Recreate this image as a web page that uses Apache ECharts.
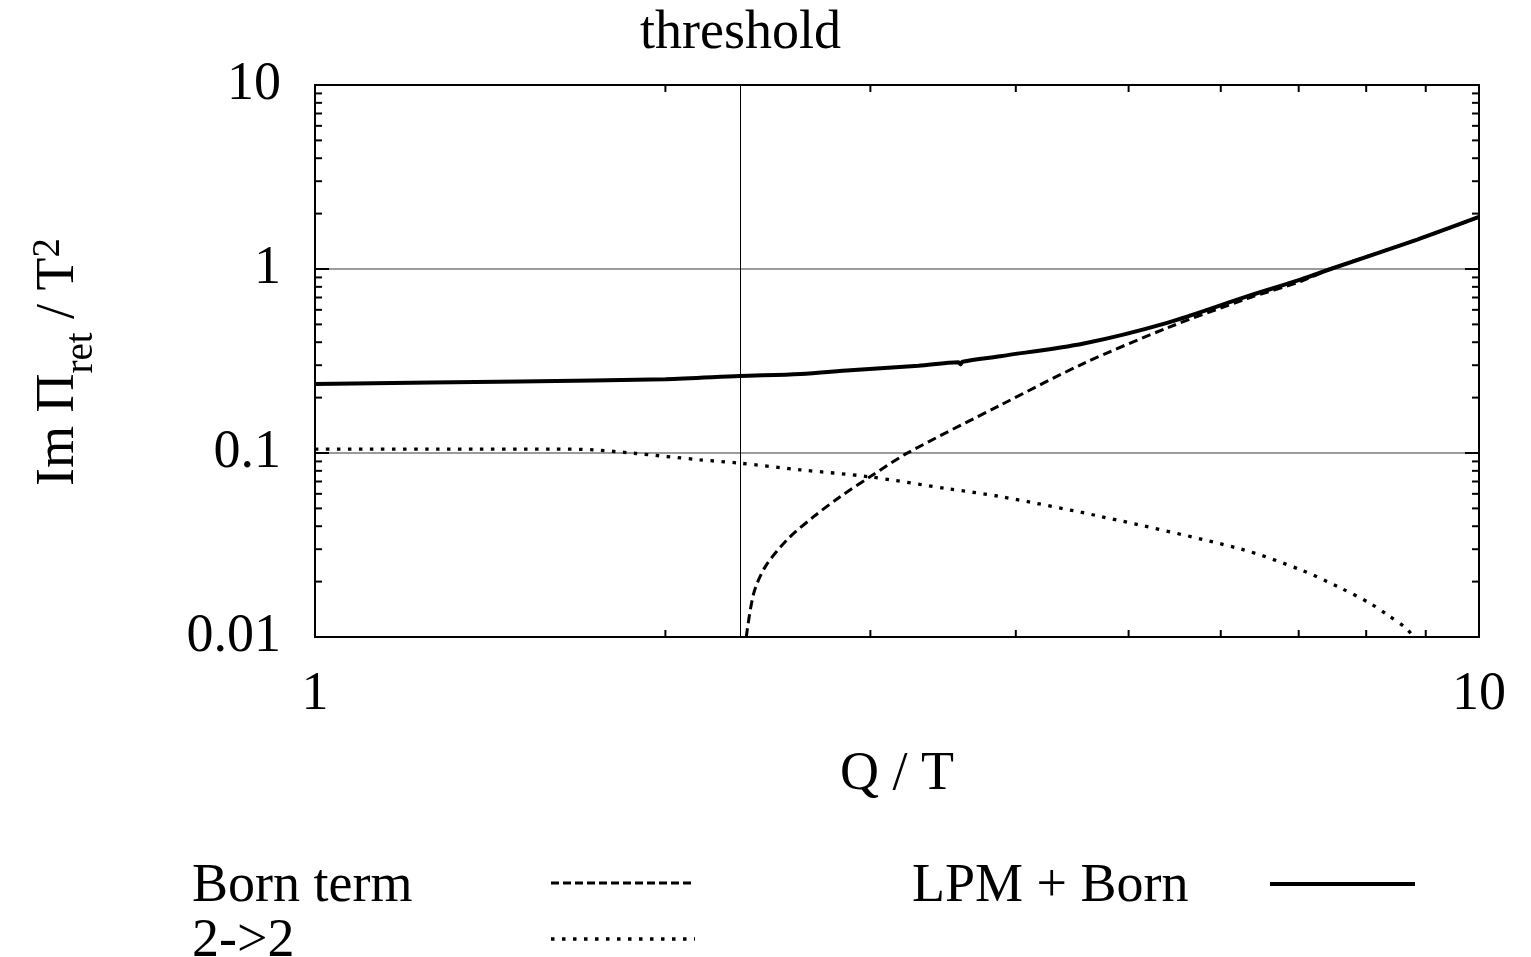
<!DOCTYPE html>
<html>
<head>
<meta charset="utf-8">
<script src="https://cdn.jsdelivr.net/npm/echarts@6/dist/echarts.min.js"></script>
<style>
  html, body { margin: 0; padding: 0; background: #ffffff; }
  #chart { width: 1531px; height: 957px; }
</style>
</head>
<body>
<div id="chart"></div>
<script>
// Born term (1 <-> 2 processes), opens just above the threshold
const qBorn = [2.347, 2.382, 2.438, 2.545, 2.683, 2.828, 3.0, 3.227, 3.88, 4.576, 5.396, 6.32, 7.025, 7.457, 8.85, 10];
const born  = [0.0100, 0.0173, 0.0242, 0.0338, 0.0452, 0.058, 0.0745, 0.0998, 0.182, 0.307, 0.478, 0.69, 0.855, 1.0, 1.445, 1.918];

// 2 -> 2 scattering contribution
const q22 = [1, 1.3, 1.6, 1.735, 1.878, 2.143, 2.316, 2.612, 2.981, 3.516, 3.88, 4.73, 6.24, 7.025, 7.6, 8.07, 8.34, 8.65, 8.79];
const v22 = [0.105, 0.105, 0.105, 0.104, 0.0997, 0.0918, 0.0881, 0.081, 0.0745, 0.0636, 0.058, 0.0452, 0.0301, 0.0232, 0.0185, 0.0152, 0.0132, 0.0112, 0.0100];

// LPM resummed rate plus Born term
const qLpm = [1, 1.5, 2, 2.316, 2.613, 2.884, 3.3, 3.57, 3.586, 3.60, 3.88, 4.576, 5.396, 6.32, 7.025, 7.457, 8.85, 10];
const lpm  = [0.237, 0.245, 0.252, 0.262, 0.269, 0.282, 0.298, 0.3115, 0.303, 0.3135, 0.336, 0.394, 0.51, 0.71, 0.875, 1.0, 1.445, 1.918];

// threshold position on the Q/T axis
const threshold = 2.316;

// axis ticks and labels
const xTicks = [1, 10];
const xTickLabels = ['1', '10'];
const yTicks = [0.01, 0.1, 1, 10];
const yTickLabels = ['0.01', '0.1', '1', '10'];
const xMinor = [2, 3, 4, 5, 6, 7, 8, 9];
const yMinor = [0.02, 0.03, 0.04, 0.05, 0.06, 0.07, 0.08, 0.09,
                0.2, 0.3, 0.4, 0.5, 0.6, 0.7, 0.8, 0.9,
                2, 3, 4, 5, 6, 7, 8, 9];

const seriesNames = ['Born term', '2->2', 'LPM + Born'];

const FONT = '"Liberation Serif", "DejaVu Serif", serif';
const FS = 54;      // main text size
const FS_SMALL = 39; // sub/superscript size

function pairs(xs, ys) { return xs.map((x, i) => [x, ys[i]]); }
function labelFor(ticks, labels) {
  return function (v) {
    let best = 0;
    for (let i = 1; i < ticks.length; i++) {
      if (Math.abs(Math.log10(ticks[i]) - Math.log10(v)) < Math.abs(Math.log10(ticks[best]) - Math.log10(v))) best = i;
    }
    return labels[best];
  };
}

// vertical axis title: Im Π_ret / T^2, laid out piece by piece and rotated
function yTitle(cx, cy) {
  const ctx = document.createElement('canvas').getContext('2d');
  const pieces = [
    { t: 'Im Π', size: FS, dy: 0 },
    { t: 'ret', size: FS_SMALL, dy: 23 },
    { t: ' / T', size: FS, dy: 0 },
    { t: '2', size: FS_SMALL, dy: -10 }
  ];
  pieces.forEach(p => { ctx.font = p.size + 'px ' + FONT; p.w = ctx.measureText(p.t).width; });
  const total = pieces.reduce((s, p) => s + p.w, 0);
  let x = -total / 2;
  const children = pieces.map(p => {
    const el = {
      type: 'text', x: x, y: p.dy,
      style: { text: p.t, fill: '#000', font: p.size + 'px ' + FONT, align: 'left', verticalAlign: 'middle' }
    };
    x += p.w;
    return el;
  });
  return { type: 'group', x: cx, y: cy, rotation: Math.PI / 2, children: children };
}

const chart = echarts.init(document.getElementById('chart'), null, { renderer: 'canvas' });

const borderLine = { show: true, lineStyle: { color: '#000', width: 2 } };
const majorTick = { show: true, inside: true, length: 14, lineStyle: { color: '#000', width: 2 } };

// minor ticks on all four sides of the frame
const minorData = xMinor.map(v => [v, 1, 0]).concat(yMinor.map(v => [1, v, 1]));

const option = {
  animation: false,
  backgroundColor: '#ffffff',
  grid: { left: 315, top: 85, right: 52, bottom: 320, containLabel: false },
  xAxis: [
    {
      type: 'log', logBase: 10, min: 1, max: 10, position: 'bottom',
      axisLine: borderLine, axisTick: majorTick,
      axisLabel: { show: true, margin: 31, color: '#000', fontFamily: FONT, fontSize: FS, formatter: labelFor(xTicks, xTickLabels) },
      splitLine: { show: false }, minorTick: { show: false }
    },
    {
      type: 'log', logBase: 10, min: 1, max: 10, position: 'top',
      axisLine: borderLine, axisTick: majorTick,
      axisLabel: { show: false }, splitLine: { show: false }
    }
  ],
  yAxis: [
    {
      type: 'log', logBase: 10, min: 0.01, max: 10, position: 'left',
      axisLine: borderLine, axisTick: majorTick,
      axisLabel: { show: true, margin: 34, color: '#000', fontFamily: FONT, fontSize: FS, formatter: labelFor(yTicks, yTickLabels) },
      splitLine: { show: true, lineStyle: { color: '#7a7a7a', width: 1.5 } }
    },
    {
      type: 'log', logBase: 10, min: 0.01, max: 10, position: 'right',
      axisLine: borderLine, axisTick: majorTick,
      axisLabel: { show: false }, splitLine: { show: false }
    }
  ],
  graphic: [
    // axis titles
    {
      type: 'text', x: 897, y: 775,
      style: { text: 'Q / T', fill: '#000', font: FS + 'px ' + FONT, align: 'center', verticalAlign: 'middle' }
    },
    yTitle(59, 362),
    // key
    { type: 'text', x: 192, y: 887, style: { text: seriesNames[0], fill: '#000', font: FS + 'px ' + FONT, align: 'left', verticalAlign: 'middle' } },
    { type: 'line', shape: { x1: 551, y1: 883, x2: 695, y2: 883 }, style: { stroke: '#000', lineWidth: 3, lineDash: [8, 4] } },
    { type: 'text', x: 192, y: 942, style: { text: seriesNames[1], fill: '#000', font: FS + 'px ' + FONT, align: 'left', verticalAlign: 'middle' } },
    { type: 'line', shape: { x1: 551, y1: 939, x2: 695, y2: 939 }, style: { stroke: '#000', lineWidth: 3.3, lineDash: [3.5, 7.5] } },
    { type: 'text', x: 912, y: 887, style: { text: seriesNames[2], fill: '#000', font: FS + 'px ' + FONT, align: 'left', verticalAlign: 'middle' } },
    { type: 'line', shape: { x1: 1270, y1: 884, x2: 1415, y2: 884 }, style: { stroke: '#000', lineWidth: 4 } }
  ],
  series: [
    {
      name: seriesNames[0], type: 'line', data: pairs(qBorn, born),
      symbol: 'none', smooth: 0.3, clip: true,
      lineStyle: { color: '#000', width: 3, type: [9, 5] }, z: 3,
      markLine: {
        silent: true, symbol: 'none',
        lineStyle: { color: '#000', width: 1, type: 'solid' },
        label: { show: true, position: 'end', distance: 24, formatter: 'threshold', color: '#000', fontFamily: FONT, fontSize: FS },
        data: [{ xAxis: threshold }]
      }
    },
    {
      name: seriesNames[1], type: 'line', data: pairs(q22, v22),
      symbol: 'none', smooth: 0.3, clip: true,
      lineStyle: { color: '#000', width: 3.3, type: [3.5, 7.5] }, z: 3
    },
    {
      name: seriesNames[2], type: 'line', data: pairs(qLpm, lpm),
      symbol: 'none', smooth: 0.3, clip: true,
      lineStyle: { color: '#000', width: 4 }, z: 4
    },
    {
      type: 'custom', coordinateSystem: 'cartesian2d', silent: true, z: 5,
      data: minorData, encode: { x: 0, y: 1 },
      renderItem: function (params, api) {
        const cs = params.coordSys;
        const L = 7;
        const kind = api.value(2);
        const style = { stroke: '#000', lineWidth: 2 };
        if (kind === 0) {
          const px = api.coord([api.value(0), 1])[0];
          return { type: 'group', children: [
            { type: 'line', shape: { x1: px, y1: cs.y + cs.height, x2: px, y2: cs.y + cs.height - L }, style: style },
            { type: 'line', shape: { x1: px, y1: cs.y, x2: px, y2: cs.y + L }, style: style }
          ] };
        }
        const py = api.coord([1, api.value(1)])[1];
        return { type: 'group', children: [
          { type: 'line', shape: { x1: cs.x, y1: py, x2: cs.x + L, y2: py }, style: style },
          { type: 'line', shape: { x1: cs.x + cs.width, y1: py, x2: cs.x + cs.width - L, y2: py }, style: style }
        ] };
      }
    }
  ]
};

chart.setOption(option);
</script>
</body>
</html>
